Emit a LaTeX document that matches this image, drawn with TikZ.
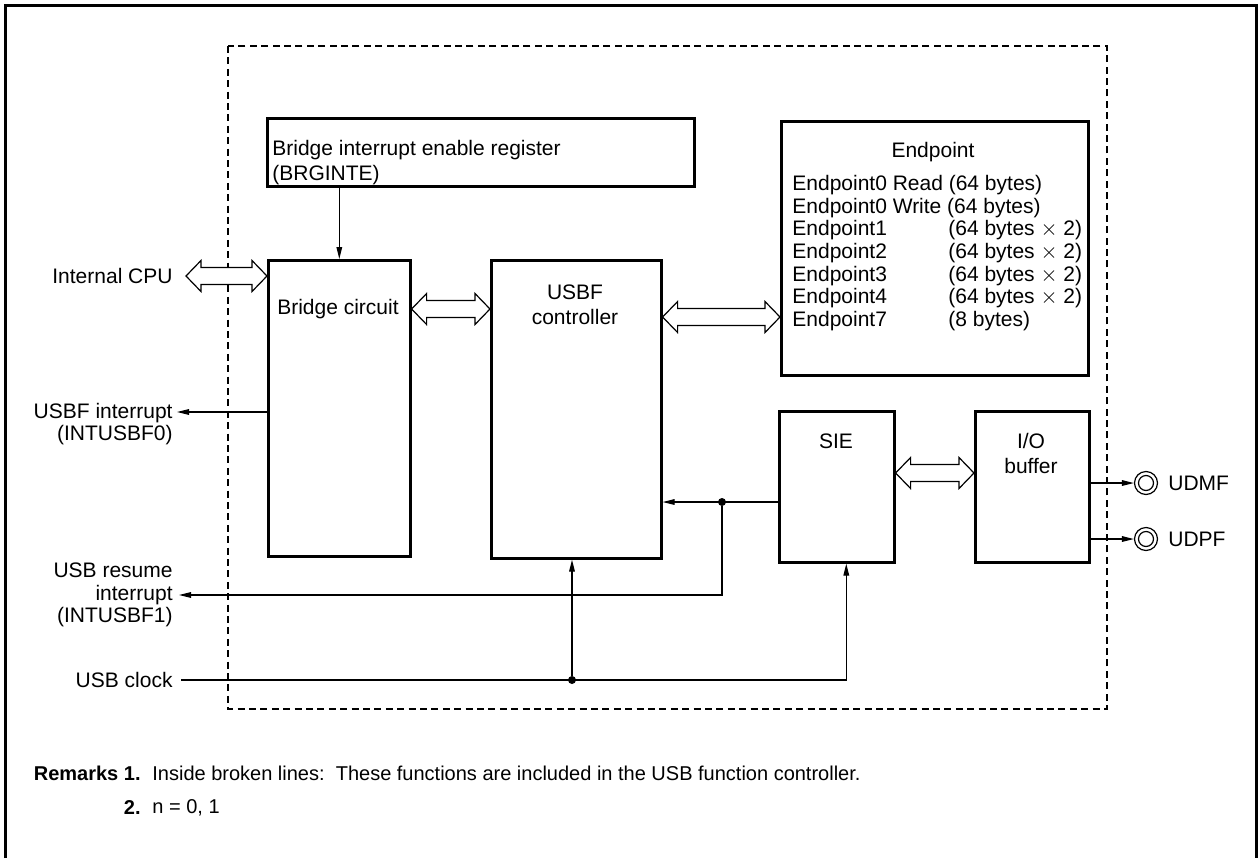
\documentclass[tikz,border=0pt]{standalone}
\usepackage{fontspec}
\setmainfont{Liberation Sans}
\usetikzlibrary{arrows.meta,calc}
\newcommand{\diafont}{\fontsize{10.5pt}{11.3pt}\selectfont}
\newcommand{\diafontw}{\fontsize{10.5pt}{12.5pt}\selectfont}
\newcommand{\remfont}{\fontsize{10pt}{11pt}\selectfont}
\newcommand{\busarrow}[2]{%
  \draw[bus] let \p1=#1, \p2=#2 in
    (\x1,\y1) -- ++(7.5pt,7.75pt) -- ++(0,-3.5pt) -- (\x2-7.5pt,\y1+4.25pt)
    -- ++(0,3.5pt) -- (\x2,\y1) -- ++(-7.5pt,-7.75pt) -- ++(0,3.5pt)
    -- (\x1+7.5pt,\y1-4.25pt) -- ++(0,-3.5pt) -- cycle;}

\begin{document}
\begin{tikzpicture}[x=0.5pt,y=-0.5pt,
  box/.style={draw,line width=1.3pt,inner sep=0pt,anchor=north west},
  sig/.style={line width=0.6pt,-{Triangle[length=6pt,width=2.8pt]}},
  bus/.style={line width=0.6pt,fill=white},
  lbl/.style={font=\diafont,inner sep=1pt},
  pad/.style={draw,circle,line width=0.6pt,minimum size=11.5pt,inner sep=0pt},
  dot/.style={circle,fill,inner sep=0pt,minimum size=4pt}]
  \useasboundingbox (0,0) rectangle (1260,858);
  \draw[line width=1.5pt] (5,858) -- (5,5) -- (1256,5) -- (1256,858);
  % broken line: USB function controller
  \draw[line width=1.3pt,dash pattern=on 3.5pt off 2.2pt] (228,46) rectangle (1107,709);

  % blocks
  \node[box,minimum width=213.5pt,minimum height=34pt] (brginte) at (266,117) {};
  \node[box,minimum width=71pt,minimum height=148pt] (bridge) at (267,259) {};
  \node[box,minimum width=85pt,minimum height=149pt] (usbf) at (490,259) {};
  \node[box,minimum width=153.5pt,minimum height=127pt] (endpt) at (780,120) {};
  \node[box,minimum width=57.5pt,minimum height=75.5pt] (sie) at (778,410) {};
  \node[box,minimum width=57pt,minimum height=75.5pt] (iobuf) at (974,410) {};

  \node[lbl,anchor=west,align=left,font=\diafontw] (brgtext) at (270,163) {Bridge interrupt enable register\\(BRGINTE)};
  \node[lbl] (bctext) at (338,309) {Bridge circuit};
  \node[lbl,align=center,font=\diafontw] (usbftext) at (575,305) {USBF\\controller};
  \node[lbl] (eptitle) at (933,152) {Endpoint};
  \node[lbl,anchor=north west,align=left] (eplist) at (790,173) {Endpoint0 Read (64 bytes)\\
    Endpoint0 Write (64 bytes)\\
    \makebox[78pt][l]{Endpoint1}(64 bytes $\times$ 2)\\
    \makebox[78pt][l]{Endpoint2}(64 bytes $\times$ 2)\\
    \makebox[78pt][l]{Endpoint3}(64 bytes $\times$ 2)\\
    \makebox[78pt][l]{Endpoint4}(64 bytes $\times$ 2)\\
    \makebox[78pt][l]{Endpoint7}(8 bytes)};
  \node[lbl] (sietext) at (836,441) {SIE};
  \node[lbl,align=center,font=\diafontw] (iotext) at (1031,453) {I/O\\buffer};

  % outside signals
  \node[lbl,anchor=east] (cpu) at (175,276) {Internal CPU};
  \node[lbl,anchor=east,align=right] (intf0) at (175,424) {USBF interrupt\\(INTUSBF0)};
  \coordinate (intf0 end) at (177,412);
  \node[lbl,anchor=east,align=right] (intf1) at (175,595) {USB resume\\interrupt\\(INTUSBF1)};
  \node[lbl,anchor=east] (clk) at (175,680) {USB clock};

  \node[pad] (dm) at (1146,483) {};
  \draw[line width=0.6pt] (dm.center) circle (3.75pt);
  \node[lbl,anchor=west] (udmf) at (1166,483) {UDMF};
  \node[pad] (dp) at (1146,539) {};
  \draw[line width=0.6pt] (dp.center) circle (3.75pt);
  \node[lbl,anchor=west] (udpf) at (1166,539) {UDPF};

  % buses
  \busarrow{([xshift=5.5pt]cpu.east)}{(bridge.west |- cpu.east)}
  \busarrow{(bridge.east |- bctext)}{(usbf.west |- bctext)}
  \busarrow{(usbf.east |- 0,317)}{(endpt.west |- 0,317)}
  \busarrow{(sie.east |- 0,473)}{(iobuf.west |- 0,473)}

  % signal lines
  \draw[sig] (brginte.south -| bridge.north) -- (bridge.north);
  \draw[sig] (bridge.west |- intf0 end) -- (intf0 end);
  \node[dot] (jsie) at (722,502) {};
  \draw[sig] (sie.west |- jsie) -- (usbf.east |- jsie);
  \draw[sig] (jsie) |- ([xshift=2pt]intf1.east);
  \node[dot] (jclk) at (572,680) {};
  \draw[sig] ([xshift=3pt]clk.east) -| ([xshift=4.75pt]sie.south);
  \draw[sig] (jclk) -- (jclk |- usbf.south);
  \draw[sig] (iobuf.east |- dm) -- (dm);
  \draw[sig] (iobuf.east |- dp) -- (dp);

  % remarks
  \node[lbl,font=\remfont,anchor=east] (rem1) at (143,773) {\textbf{Remarks 1.}};
  \node[lbl,font=\remfont,anchor=west] (rem1txt) at (150,773) {Inside broken lines:\ \ These functions are included in the USB function controller.};
  \node[lbl,font=\remfont,anchor=east] (rem2) at (rem1.east |- 0,808) {\textbf{2.}};
  \node[lbl,font=\remfont,anchor=west] (rem2txt) at (150,808) {n = 0, 1};
\end{tikzpicture}
\end{document}
